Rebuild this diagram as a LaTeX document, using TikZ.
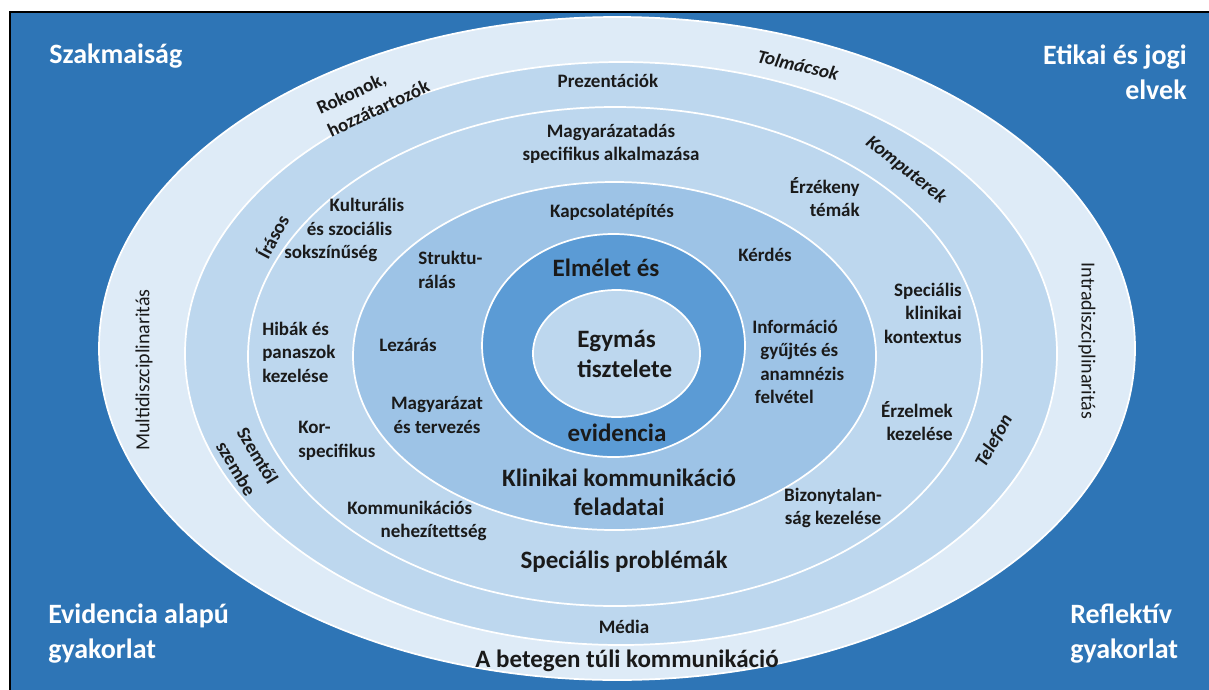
\documentclass[tikz,border=0pt]{standalone}
\usepackage{fontspec}
\setmainfont{Carlito}
\definecolor{bgblue}{HTML}{2E75B6}
\definecolor{bandA}{HTML}{DEEBF7}
\definecolor{bandB}{HTML}{BDD7EE}
\definecolor{bandC}{HTML}{9DC3E6}
\definecolor{bandD}{HTML}{5B9BD5}
\definecolor{txt}{HTML}{1A1A1A}
\begin{document}
\begin{tikzpicture}[x=0.75pt,y=-0.75pt,
  ring/.style={draw=white,line width=1.3pt},
  lbl/.style={font=\bfseries\fontsize{14.25pt}{17.6pt}\selectfont,text=txt,inner sep=0pt,align=center},
  widelbl/.style={lbl,font=\bfseries\fontsize{14.25pt}{18.8pt}\selectfont},
  ital/.style={lbl,font=\bfseries\itshape\fontsize{14.25pt}{17.6pt}\selectfont},
  plainlbl/.style={lbl,font=\fontsize{15pt}{18pt}\selectfont},
  big/.style={font=\bfseries\fontsize{18.75pt}{22pt}\selectfont,text=txt,inner sep=0pt,align=center},
  corner/.style={font=\bfseries\fontsize{21pt}{26.25pt}\selectfont,text=white,inner sep=0pt}]
\useasboundingbox (0,0) rectangle (1209,689);
\begin{scope}
  \clip (0,0) rectangle (1209,689);
  % blue panel with a dark frame
  \fill[white] (0,0) rectangle (1209,689);
  \filldraw[fill=bgblue,draw=black,line width=1.2pt] (10,12) rectangle (1230,710);
  % nested rings, outermost first
  \filldraw[ring,fill=bandA] (617,348.5) ellipse [x radius=518,y radius=331.5];
  \filldraw[ring,fill=bandB] (621,353.5) ellipse [x radius=436,y radius=291.5];
  \filldraw[ring,fill=bandB] (615,356.5) ellipse [x radius=367,y radius=249.5];
  \filldraw[ring,fill=bandC] (614.5,356) ellipse [x radius=261.5,y radius=174];
  \filldraw[ring,fill=bandD] (613.5,345.5) ellipse [x radius=131.5,y radius=111.5];
  \filldraw[ring,fill=bandB] (616.5,353.5) ellipse [x radius=83.5,y radius=63.5];
\end{scope}

% corner headings
\node[corner,anchor=base west] (szak) at (49,63) {Szakmaiság};
\node[corner,anchor=east,align=right] (etik) at (1187,72) {Etikai és jogi\\elvek};
\node[corner,anchor=west,align=left] (evid) at (48,634) {Evidencia alapú\\gyakorlat};
\node[corner,anchor=west,align=left] (refl) at (1070,634) {Reflektív\\gyakorlat};

% core and ring titles
\node[big,anchor=west,align=left] (egym) at (577,354) {Egymás\\tisztelete};
\node[big] (elm) at (606,268) {Elmélet és};
\node[big] (evidn) at (617,433) {evidencia};
\node[big] (klin) at (619,492) {Klinikai kommunikáció\\feladatai};
\node[big] (specp) at (624,562) {Speciális problémák};
\node[big] (atul) at (627,661) {A betegen túli kommunikáció};

% clinical communication tasks
\node[lbl] (kapcs) at (612,212) {Kapcsolatépítés};
\node[lbl] (kerd) at (765,255) {Kérdés};
\node[lbl,anchor=west,align=left] (strukt) at (418,270) {Struktu-\\rálás};
\node[lbl] (lezar) at (408,345) {Lezárás};
\node[lbl] (magyt) at (437,415) {Magyarázat\\és tervezés};
\node[lbl,anchor=west,align=left] (info) at (752,362) {Információ\\\hspace*{6pt}gyűjtés és\\\hspace*{6pt}anamnézis\\\hspace*{2pt}felvétel};

% special problems
\node[lbl] (magy) at (611,144) {Magyarázatadás\\specifikus alkalmazása};
\node[lbl,anchor=east,align=right] (erzek) at (860,197) {Érzékeny\\témák};
\node[lbl,anchor=east,align=right] (speck) at (962,313) {Speciális\\klinikai\\kontextus};
\node[lbl,anchor=east,align=right] (erzel) at (953,421) {Érzelmek\\kezelése};
\node[lbl] (bizony) at (833,508) {Bizonytalan-\\ság kezelése};
\node[lbl,anchor=west,align=left] (nehez) at (347,521) {Kommunikációs\\\hspace*{25pt}nehezítettség};
\node[lbl,anchor=west,align=left] (kor) at (298,441) {Kor-\\specifikus};
\node[lbl,anchor=west,align=left] (hibak) at (262,352) {Hibák és\\panaszok\\kezelése};
\node[lbl,anchor=west,align=left] (kult) at (284,230) {\hspace*{34pt}Kulturális\\\hspace*{17pt}és szociális\\sokszínűség};

% communication channels
\node[lbl] (prez) at (608,81) {Prezentációk};
\node[lbl] (media) at (624,627) {Média};
\node[ital,rotate=-38] (komp) at (906,170) {Komputerek};
\node[ital,rotate=61] (tel) at (994,441) {Telefon};
\node[lbl,rotate=62] (iras) at (272,236) {Írásos};
\node[widelbl,rotate=-59] (szem) at (247,462) {Szemtől\\szembe};

% beyond the patient
\node[widelbl,rotate=25,align=left] (rokon) at (373,97) {Rokonok,\\hozzátartozók};
\node[ital,rotate=-13] (tolm) at (798,65) {Tolmácsok};
\node[plainlbl,rotate=-90] (intra) at (1087,341) {Intradiszciplinaritás};
\node[plainlbl,rotate=90] (multi) at (144,370) {Multidiszciplinaritás};
\end{tikzpicture}
\end{document}
